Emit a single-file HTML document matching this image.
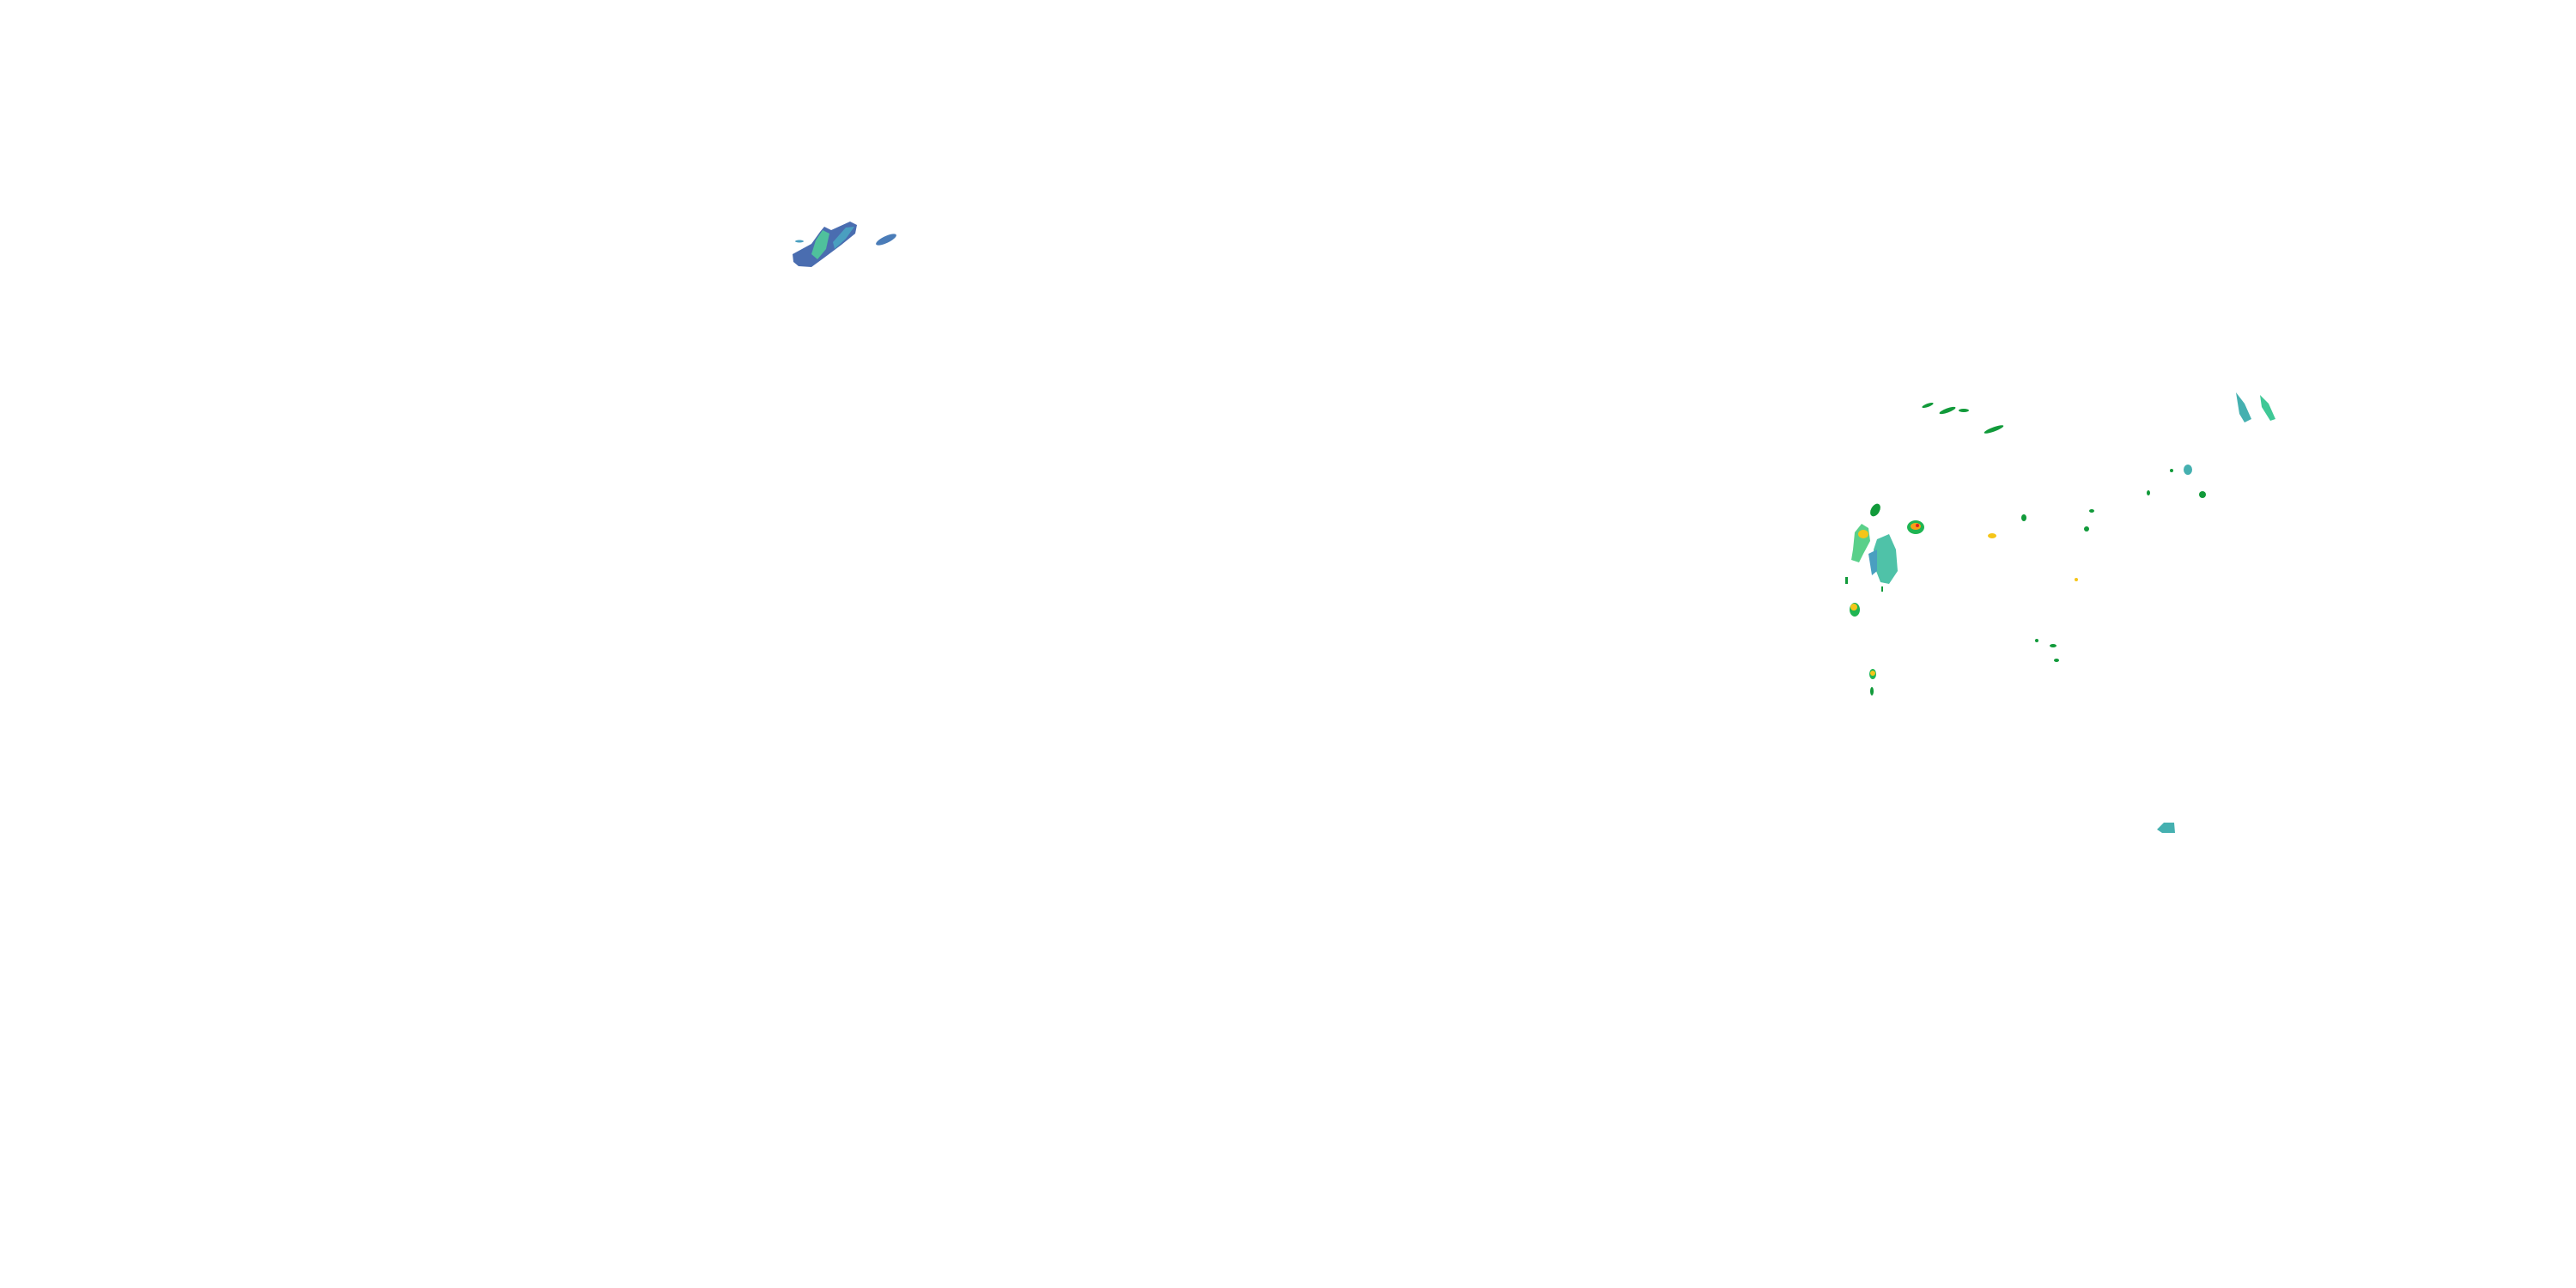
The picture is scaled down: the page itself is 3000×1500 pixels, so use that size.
<!DOCTYPE html>
<html><head><style>html,body{margin:0;padding:0;background:#fff;}svg{display:block}</style></head>
<body>
<svg width="3000" height="1500" viewBox="0 0 3000 1500" xmlns="http://www.w3.org/2000/svg">
<rect width="3000" height="1500" fill="#fff"/>
<!-- left blob -->
<polygon points="923,296 945,284 955,270 960,264 968,268 990,258 998,262 996,272 980,285 960,300 945,311 930,310 924,305" fill="#4a6db0"/>
<polygon points="945,296 950,280 958,268 966,272 962,290 952,302" fill="#4fc19c"/>
<polygon points="970,282 985,265 995,264 985,278 972,290" fill="#4a9fc0"/>
<ellipse cx="1032" cy="279" rx="13" ry="4" transform="rotate(-25 1032 279)" fill="#4a7cb8"/>
<ellipse cx="931" cy="281" rx="5" ry="1.5" fill="#4a9fc0"/>
<!-- right cluster -->
<ellipse cx="2245" cy="472" rx="7" ry="2" transform="rotate(-20 2245 472)" fill="#119a3a"/>
<ellipse cx="2268" cy="478" rx="10" ry="2.5" transform="rotate(-20 2268 478)" fill="#119a3a"/>
<ellipse cx="2287" cy="478" rx="6" ry="2" fill="#119a3a"/>
<ellipse cx="2322" cy="500" rx="12" ry="2.5" transform="rotate(-20 2322 500)" fill="#119a3a"/>
<polygon points="2604,457 2614,470 2622,488 2614,492 2608,482" fill="#45b0b0"/>
<polygon points="2632,460 2642,470 2650,488 2644,490 2634,474" fill="#3fc896"/>
<ellipse cx="2548" cy="547" rx="5" ry="6" fill="#45b0b0"/>
<ellipse cx="2184" cy="594" rx="5" ry="8" transform="rotate(30 2184 594)" fill="#119a3a"/>
<polygon points="2158,640 2160,620 2168,610 2176,615 2178,630 2170,645 2165,655 2156,652" fill="#5ad08a"/>
<ellipse cx="2170" cy="622" rx="6" ry="5" fill="#f5c518"/>
<polygon points="2186,628 2200,622 2208,640 2210,665 2200,680 2190,678 2183,660 2182,640" fill="#4fc2a8"/>
<polygon points="2176,645 2186,640 2186,665 2180,670" fill="#4a9fc0"/>
<ellipse cx="2231" cy="614" rx="10" ry="8" fill="#1fb552"/>
<ellipse cx="2231" cy="613" rx="6" ry="4" fill="#f5a018"/>
<circle cx="2233" cy="612" r="2" fill="#e02020"/>
<rect x="2149" y="672" width="3" height="8" fill="#119a3a"/>
<ellipse cx="2160" cy="710" rx="6" ry="8" fill="#1fb552"/>
<ellipse cx="2159" cy="707" rx="4" ry="4" fill="#f5c518"/>
<ellipse cx="2181" cy="785" rx="4" ry="6" fill="#1fb552"/>
<ellipse cx="2181" cy="784" rx="3" ry="3" fill="#f5c518"/>
<ellipse cx="2180" cy="805" rx="2" ry="5" fill="#119a3a"/>
<rect x="2191" y="683" width="2" height="6" fill="#119a3a"/>
<polygon points="2512,966 2520,958 2532,958 2533,970 2518,970" fill="#45b0b0"/>
<ellipse cx="2357" cy="603" rx="3" ry="4" fill="#119a3a"/>
<ellipse cx="2320" cy="624" rx="5" ry="3" fill="#f5c518"/>
<ellipse cx="2430" cy="616" rx="3" ry="3" fill="#119a3a"/>
<ellipse cx="2436" cy="595" rx="3" ry="2" fill="#119a3a"/>
<ellipse cx="2502" cy="574" rx="2" ry="3" fill="#119a3a"/>
<ellipse cx="2565" cy="576" rx="4" ry="4" fill="#119a3a"/>
<ellipse cx="2391" cy="752" rx="4" ry="2" fill="#119a3a"/>
<ellipse cx="2372" cy="746" rx="2" ry="2" fill="#119a3a"/>
<ellipse cx="2418" cy="675" rx="2" ry="2" fill="#f5c518"/>
<ellipse cx="2395" cy="769" rx="3" ry="2" fill="#119a3a"/>
<ellipse cx="2529" cy="548" rx="2" ry="2" fill="#119a3a"/>
</svg>
</body></html>
